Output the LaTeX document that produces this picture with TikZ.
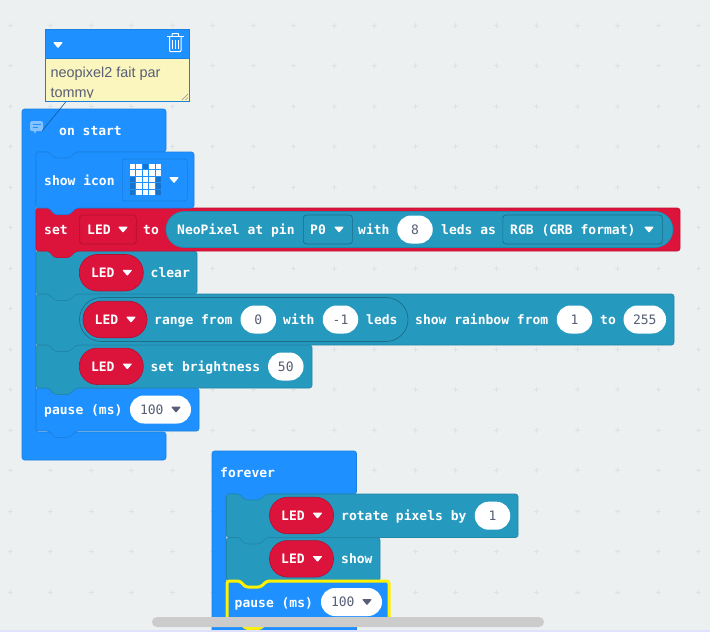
\documentclass[tikz,border=0pt]{standalone}
\usepackage{fontspec}
\setmainfont{Liberation Sans}
\newfontfamily\blockfont{DejaVu Sans Mono}
\usepackage{tikz}

\definecolor{workspace}{HTML}{ECF0F1}
\definecolor{gridmark}{HTML}{DDE2E5}
\definecolor{loopblue}{HTML}{1E90FF}
\definecolor{loopedge}{HTML}{1B7FDD}
\definecolor{pixelteal}{HTML}{2699BF}
\definecolor{pixeledge}{HTML}{2187A9}
\definecolor{varred}{HTML}{DC143C}
\definecolor{varedge}{HTML}{B01030}
\definecolor{valuegray}{HTML}{575E75}
\definecolor{notepaper}{HTML}{FBF5BE}
\definecolor{ledoff}{HTML}{1873CC}

\tikzset{
 bluepart/.style = {fill = loopblue, draw = loopedge, line width = .6pt, rounded corners = 2.5},
 tealpart/.style = {fill = pixelteal, draw = pixeledge, line width = .6pt, rounded corners = 2.5},
 redpart/.style = {fill = varred, draw = varedge!60!varred, line width = .6pt, rounded corners = 2.5},
 word/.style = {anchor = base west, inner sep = 0, text = white, font = \blockfont\bfseries\fontsize{13}{15}\selectfont},
 valpill/.style = {fill = white, rounded corners = 13.9, minimum height = 28, inner sep = 0, text height = 9.5, text depth = 0, text = valuegray, font = \blockfont\fontsize{13}{15}\selectfont},
 ledpill/.style = {fill = varred, draw = varedge, line width = .6pt, rounded corners = 18, minimum width = 64, minimum height = 36.5, inner sep = 0},
 field/.style = {draw = #1, line width = .7pt, rounded corners = 3, minimum height = 29, inner sep = 0, anchor = west}
}

% one stacked block: notch on top, tab below
\newcommand{\stackblock}[5]{
 \draw[#1] (#2, #3) -- ({#2+13}, #3) -- ({#2+18.5}, {#3+6}) -- ({#2+33.5}, {#3+6}) -- ({#2+40}, #3)
  -- (#4, #3) -- (#4, #5) -- ({#2+40}, #5) -- ({#2+33.5}, {#5+6.5}) -- ({#2+18.5}, {#5+6.5}) -- ({#2+13}, #5) -- (#2, #5) -- cycle;
}
\newcommand{\dropmark}[3]{
 \fill[#1, rounded corners = .8] ({#2-5}, {#3-2.8}) -- ({#2+5}, {#3-2.8}) -- ({#2}, {#3+3.2}) -- cycle;
}
\newcommand{\ledblock}[3]{
 \node[ledpill] (#1) at (#2, #3) {};
 \node[word] (#1txt) at ({#2-20.5}, {#3+5}) {LED};
 \dropmark{white}{#2+16}{#3}
}

\begin{document}
\begin{tikzpicture}[x = 1pt, y = -1pt]
 \useasboundingbox (0, 0) rectangle (710, 640);
 \fill[workspace] (0, 0) rectangle (710, 640);
 \foreach \px in {0,...,17} {
  \foreach \py in {0,...,14} {
   \draw[gridmark, line width = .7pt] ({10+40.5*\px-2.5}, {25+40.5*\py}) -- ({10+40.5*\px+2.5}, {25+40.5*\py});
   \draw[gridmark, line width = .7pt] ({10+40.5*\px}, {25+40.5*\py-2.5}) -- ({10+40.5*\px}, {25+40.5*\py+2.5});
  }
 }

 \draw[bluepart] (22, 109) -- (166, 109) -- (166, 152) -- (76, 152) -- (69.5, 160) -- (54.5, 160) -- (49, 152) -- (36, 152) -- (36, 432) -- (166, 432) -- (166, 460) -- (22, 460) -- cycle;
 \stackblock{bluepart}{36}{388}{199}{431}
 \stackblock{tealpart}{36}{345}{312}{388}
 \stackblock{tealpart}{36}{294}{674}{345}
 \stackblock{tealpart}{36}{251}{197}{294}
 \stackblock{redpart}{36}{208}{680}{251}
 \stackblock{bluepart}{36}{152}{194}{208}

 \node[word] (onstart) at (59, 135) {on start};
 \node[word] (showicon) at (44, 185) {show icon};
 \node[field = loopedge, minimum width = 65, minimum height = 42] (iconfield) at (122, 180) {};
 \foreach \rowcells [count = \ry from 0] in {{1,1,0,1,1},{1,1,1,1,1},{0,1,1,1,0},{0,1,1,1,0},{0,1,1,1,0}} {
  \foreach \cell [count = \cx from 0] in \rowcells {
   \ifnum\cell=1
    \fill[white] ({130+6.45*\cx}, {164+6.45*\ry}) rectangle ++(5.2, 5.2);
   \else
    \fill[ledoff] ({130+6.45*\cx}, {164+6.45*\ry}) rectangle ++(5.2, 5.2);
   \fi
  }
 }
 \dropmark{white}{174}{180}

 \node[word] (setword) at (44, 234) {set};
 \node[field = varedge, minimum width = 56.5] (ledfield) at (79.3, 229.5) {};
 \node[word] (ledname) at (87, 234) {LED};
 \dropmark{white}{123}{229.5}
 \node[word] (toword) at (143, 234) {to};
 \filldraw[fill = pixelteal, draw = pixeledge, line width = .6pt, rounded corners = 18] (166, 211.5) rectangle (673, 247.5);
 \node[word] (neopixel) at (177, 234) {NeoPixel at pin};
 \node[field = pixeledge!80!black, minimum width = 49] (pinfield) at (303, 229.5) {};
 \node[word] (pinname) at (310, 234) {P0};
 \dropmark{white}{339}{229.5}
 \node[word] (withleds) at (358, 234) {with};
 \node[valpill, minimum width = 35.5] (ledcount) at (415, 229.5) {8};
 \node[word] (ledsas) at (441, 234) {leds as};
 \node[field = pixeledge!80!black, minimum width = 159.5] (rgbfield) at (502.5, 229.5) {};
 \node[word] (rgbname) at (510, 234) {RGB (GRB format)};
 \dropmark{white}{649}{229.5}

 \ledblock{ledclear}{111.3}{272.7}
 \node[word] (clearword) at (150.5, 277.5) {clear};

 \filldraw[fill = pixelteal, draw = pixeledge!80!black, line width = .7pt, rounded corners = 22] (79.5, 297.5) rectangle (408, 341.5);
 \ledblock{ledrange}{115}{319.5}
 \node[word] (rangefrom) at (154, 324.5) {range from};
 \node[valpill, minimum width = 35.5] (rangestart) at (258.3, 319.5) {0};
 \node[word] (rangewith) at (283, 324.5) {with};
 \node[valpill, minimum width = 35.5] (rangelen) at (340.5, 319.5) {-1};
 \node[word] (rangeleds) at (366, 324.5) {leds};
 \node[word] (rainbow) at (415, 324.5) {show rainbow from};
 \node[valpill, minimum width = 35.5] (huestart) at (574.5, 319.5) {1};
 \node[word] (rainbowto) at (600, 324.5) {to};
 \node[valpill, minimum width = 42.5] (hueend) at (644.8, 319.5) {255};

 \ledblock{ledbright}{111.3}{366.3}
 \node[word] (brightness) at (150.5, 371.5) {set brightness};
 \node[valpill, minimum width = 35.5] (brightval) at (285.8, 366.5) {50};

 \node[word] (pauseone) at (44, 414.5) {pause (ms)};
 \node[valpill, minimum width = 61, text width = 41] (pauseoneval) at (160.5, 409.5) {100};
 \dropmark{valuegray}{176}{409.5}

 \draw[bluepart] (212, 451) -- (356.5, 451) -- (356.5, 494) -- (266.5, 494) -- (260, 502) -- (245, 502) -- (239.5, 494) -- (226, 494) -- (226, 625) -- (356.5, 625) -- (356.5, 645) -- (212, 645) -- cycle;
 \stackblock{tealpart}{226.5}{537.5}{380}{581}
 \stackblock{tealpart}{226.5}{494}{518}{537.5}
 \stackblock{bluepart, draw = yellow, line width = 3pt}{227}{581}{389}{622}
 \node[word] (foreverword) at (220, 477) {forever};
 \ledblock{ledrotate}{301.5}{515.5}
 \node[word] (rotateword) at (341, 520.5) {rotate pixels by};
 \node[valpill, minimum width = 35.5] (rotateval) at (492.5, 515.7) {1};
 \ledblock{ledshow}{301.5}{558.8}
 \node[word] (showword) at (341, 563.5) {show};
 \node[word] (pausetwo) at (234.5, 607.5) {pause (ms)};
 \node[valpill, minimum width = 61, text width = 41] (pausetwoval) at (351.5, 602) {100};
 \dropmark{valuegray}{367}{602}

 \fill[white!96!workspace] (0, 630) rectangle (710, 640);
 \fill[blue!12!white] (0, 630) rectangle (710, 632);
 \node[fill = black!20, rounded corners = 5, minimum width = 392, minimum height = 10, inner sep = 0] (scrollbar) at (348, 622) {};

 \node[fill = loopblue!55!white, rounded corners = 1.5, minimum width = 13, minimum height = 10, inner sep = 0] (commenticon) at (36.5, 126) {};
 \fill[loopblue!55!white] (33, 130) -- (37, 130) -- (35, 133.5) -- cycle;
 \draw[loopblue, line width = 1pt] (32.5, 124.5) -- (40.5, 124.5) (32.5, 127.5) -- (38, 127.5);
 \coordinate (notefoot) at (66.5, 101);
 \coordinate (iconcorner) at (42, 131);
 \draw[loopedge!70!black, line width = .6pt] (notefoot) -- (iconcorner);

 \node[fill = notepaper, draw = loopedge, line width = .7pt, anchor = north west, minimum width = 144, minimum height = 43, inner sep = 0] (notebody) at (45, 58) {};
 \node[fill = loopblue, draw = loopedge, line width = .7pt, anchor = north west, minimum width = 144, minimum height = 29, inner sep = 0] (notehead) at (45, 29) {};
 \begin{scope}
  \clip (46, 60) rectangle (188, 97.6);
  \node[anchor = base west, inner sep = 0, text = valuegray, font = \fontsize{14.4}{16}\selectfont] (noteone) at (50.5, 77.3) {neopixel2 fait par};
  \node[anchor = base west, inner sep = 0, text = valuegray, font = \fontsize{14.4}{16}\selectfont] (notetwo) at (50.5, 97.3) {tommy};
 \end{scope}
 \draw[black!45, line width = .6pt] (182, 100) -- (188, 94) (185.5, 100) -- (188, 97.5);
 \dropmark{white}{58}{45}
 \draw[white, line width = 1pt, rounded corners = .8] (169.5, 37) -- (169.5, 51.5) -- (181, 51.5) -- (181, 37);
 \draw[white, line width = 1pt] (167, 36.5) -- (183.5, 36.5);
 \draw[white, line width = 1pt, rounded corners = .5] (172, 36) -- (172, 33.5) -- (178.5, 33.5) -- (178.5, 36);
 \draw[white, line width = .8pt] (172.7, 40) -- (172.7, 48.5) (175.3, 40) -- (175.3, 48.5) (177.9, 40) -- (177.9, 48.5);
\end{tikzpicture}
\end{document}
